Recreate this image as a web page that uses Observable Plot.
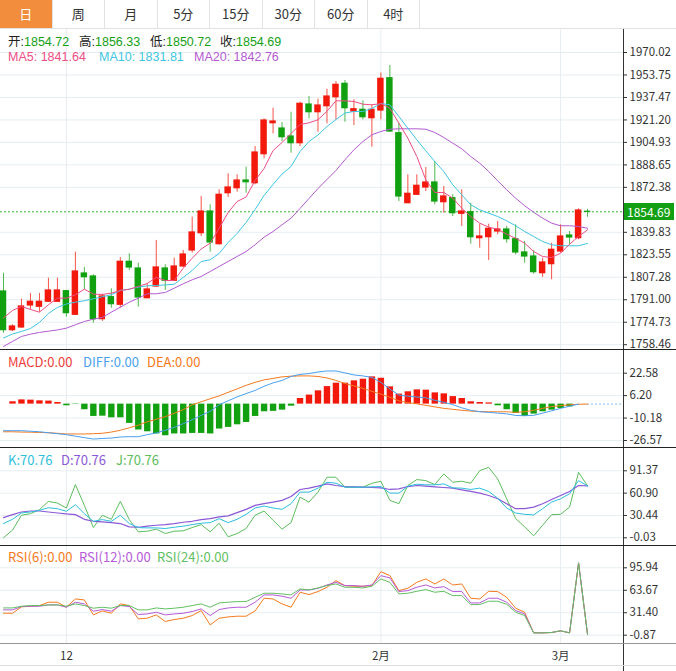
<!DOCTYPE html>
<html>
<head>
<meta charset="utf-8">
<script src="https://cdn.jsdelivr.net/npm/d3@7"></script>
<script src="https://cdn.jsdelivr.net/npm/@observablehq/plot@0.6"></script>
<style>
html,body{margin:0;padding:0;background:#fff;}
#wrap{position:relative;width:676px;height:671px;overflow:hidden;font-family:"Noto Sans CJK SC","Noto Sans",sans-serif;}
.tabs{position:absolute;left:0;top:0;height:29px;width:676px;border-bottom:1px solid #e2e2e2;box-sizing:border-box;}
.tab{position:absolute;top:0;height:28px;line-height:28px;text-align:center;font-size:13px;color:#333;border-right:1px solid #e2e2e2;box-sizing:border-box;}
.tab.on{background:#f28d3e;color:#fff;}
.pnl{position:absolute;left:0;}
.pnl svg{display:block;overflow:visible;}
.lg{position:absolute;font-size:13px;line-height:13px;height:13px;white-space:pre;}
.lt{position:absolute;font-family:"Liberation Sans","Noto Sans CJK SC",sans-serif;font-size:12.5px;line-height:14px;height:14px;white-space:pre;}
.sep{position:absolute;left:0;width:676px;height:1px;background:#222;}
.tag{position:absolute;left:624px;width:50px;height:17px;line-height:17px;background:#12a012;color:#fff;font-size:12px;padding-left:3px;box-sizing:border-box;}
</style>
</head>
<body>
<div id="wrap"></div>
<script>
// ---------------- data ----------------
const tabLabels = ["日","周","月","5分","15分","30分","60分","4时"];
const xTickIdx = [7, 42, 62];
const xTickText = ["12", "2月", "3月"];

const open  = [1796.99,1768.98,1770.93,1786.86,1785.92,1789.54,1789.54,1797.21,1780.13,1810.02,1807.85,1776.94,1792.87,1787.37,1818.49,1813.64,1792.14,1800.61,1813.64,1804.74,1815.09,1826.68,1839.20,1854.91,1831.24,1868.15,1871.77,1877.35,1875.39,1896.39,1918.83,1914.99,1909.20,1904.35,1932.36,1926.79,1931.13,1937.65,1947.35,1927.30,1928.53,1922.45,1928.02,1951.40,1911.59,1860.92,1867.00,1872.28,1875.90,1861.64,1864.54,1853.24,1854.40,1835.58,1836.30,1840.43,1841.88,1834.86,1825.23,1822.33,1810.24,1816.76,1825.95,1837.53,1835.58,1854.72];
const high  = [1810.24,1772.89,1791.42,1795.55,1795.55,1806.62,1806.62,1797.90,1825.44,1814.37,1809.08,1795.04,1798.95,1821.61,1824.29,1817.48,1802.57,1833.91,1816.32,1821.10,1826.68,1850.78,1865.77,1859.76,1870.62,1882.20,1881.47,1886.98,1901.96,1922.01,1929.69,1919.33,1926.79,1934.03,1938.16,1936.20,1943.44,1949.01,1949.74,1935.77,1935.04,1932.15,1955.17,1960.60,1918.83,1881.47,1881.47,1886.76,1891.10,1873.00,1867.00,1870.62,1860.92,1845.71,1845.71,1847.67,1844.05,1845.28,1833.19,1826.46,1821.10,1831.96,1845.28,1840.43,1856.86,1856.33];
const low   = [1766.81,1768.04,1770.43,1783.75,1782.01,1789.00,1789.00,1778.39,1779.60,1798.23,1774.05,1775.28,1784.91,1784.91,1812.20,1785.63,1791.71,1799.90,1797.72,1804.23,1814.37,1824.72,1836.81,1825.44,1830.60,1865.04,1868.88,1868.15,1874.24,1893.06,1911.15,1905.58,1897.11,1901.96,1922.01,1912.31,1918.39,1921.29,1919.55,1917.16,1921.29,1901.45,1921.29,1912.31,1862.15,1860.50,1866.49,1869.39,1859.76,1853.68,1851.29,1844.05,1831.24,1828.34,1819.44,1838.04,1831.96,1823.56,1817.48,1809.52,1807.13,1805.46,1824.72,1830.80,1834.42,1850.72];
const close = [1768.98,1771.66,1786.14,1789.54,1789.54,1797.72,1797.72,1781.29,1811.47,1807.35,1776.94,1793.38,1787.80,1818.49,1814.37,1792.65,1798.44,1814.37,1804.74,1815.09,1823.78,1839.71,1854.91,1832.47,1867.00,1872.28,1877.35,1876.12,1897.62,1920.78,1920.06,1908.69,1904.35,1932.87,1926.79,1931.64,1938.16,1946.63,1929.69,1928.96,1923.17,1928.53,1950.97,1912.82,1865.77,1867.72,1873.51,1875.90,1862.15,1865.77,1853.68,1854.91,1836.30,1836.81,1842.38,1841.88,1834.86,1825.23,1822.33,1810.97,1817.99,1827.18,1836.81,1836.09,1855.63,1854.69];

const ma5  = [1777.81,1783.24,1786.14,1783.97,1782.01,1787.37,1792.14,1792.14,1794.61,1798.66,1795.04,1794.82,1795.76,1797.72,1798.66,1800.61,1802.79,1807.13,1804.96,1804.96,1813.86,1821.10,1827.76,1831.96,1842.82,1854.18,1862.15,1865.40,1877.35,1886.03,1899.06,1904.86,1911.37,1917.89,1919.12,1921.29,1927.51,1935.04,1935.04,1934.54,1932.58,1932.15,1933.09,1929.69,1918.83,1907.97,1894.72,1877.85,1868.66,1868.66,1864.54,1857.30,1851.29,1846.44,1843.54,1842.09,1838.47,1835.58,1831.96,1825.95,1822.33,1821.61,1824.72,1831.24,1836.81,1841.64];
const ma10 = [1763.33,1766.23,1768.04,1770.21,1774.55,1781.07,1785.41,1787.95,1789.25,1790.26,1791.71,1793.16,1794.61,1797.72,1798.66,1800.11,1801.12,1801.34,1801.70,1802.28,1807.13,1812.20,1818.71,1819.94,1824.50,1832.47,1838.98,1846.94,1856.35,1866.49,1874.45,1882.05,1887.48,1898.34,1905.58,1910.29,1916.44,1921.51,1926.21,1927.30,1927.30,1929.47,1933.09,1932.15,1923.68,1915.21,1906.81,1898.85,1891.10,1883.86,1874.24,1867.00,1859.76,1856.14,1853.68,1851.29,1848.17,1844.56,1840.43,1836.81,1833.19,1830.80,1830.08,1830.08,1830.08,1831.81];
const ma20 = [1757.18,1760.80,1764.42,1766.08,1767.32,1768.26,1769.13,1770.43,1772.89,1775.28,1776.94,1778.17,1782.01,1785.63,1789.25,1792.14,1795.33,1795.33,1796.27,1799.38,1802.57,1805.46,1807.85,1811.47,1815.09,1818.71,1822.33,1825.95,1830.80,1836.30,1840.43,1845.28,1850.06,1857.08,1864.32,1871.56,1878.07,1884.59,1892.33,1899.57,1905.58,1910.43,1912.82,1914.48,1914.77,1914.77,1914.77,1914.48,1912.10,1908.48,1904.35,1900.30,1894.72,1889.87,1883.86,1877.13,1870.62,1864.54,1859.03,1854.40,1850.06,1846.44,1844.56,1844.56,1844.05,1842.76];

const macd = [0,1.7,3.1,2.9,2.4,2.2,1.2,-1.2,-0.3,-4.1,-9.0,-8.8,-10.0,-10.0,-14.1,-18.9,-20.2,-21.8,-23.1,-21.8,-21.8,-21.4,-21.4,-21.8,-18.2,-17.0,-15.1,-13.4,-9.0,-5.6,-5.3,-4.4,-1.5,4.1,6.6,9.7,12.8,15.3,15.3,17.0,18.2,19.9,18.9,12.6,7.3,9.0,10.4,10.2,8.2,7.5,5.5,4.1,1.7,1.2,0.9,-1.2,-4.1,-6.8,-9.0,-7.3,-5.6,-4.4,-3.2,-2.0,0,0];
const diff = [-19.4,-19.4,-19.4,-19.8,-20.2,-20.9,-21.6,-22.3,-23.4,-24.5,-25.5,-25.1,-24.8,-24.0,-23.8,-23.8,-22.3,-21.1,-19.1,-17.0,-14.3,-11.4,-8.2,-5.2,-0.5,2.4,5.3,7.7,10.0,13.0,15.5,17.3,20.2,21.7,22.3,23.5,24.2,24.2,22.8,21.3,20.6,19.5,15.9,11.1,6.6,5.8,5.2,4.6,2.8,1.3,-0.4,-2.7,-4.5,-5.6,-6.0,-6.6,-7.1,-8.3,-8.5,-8.2,-6.6,-4.9,-3.1,-1.5,0,0];
const dea  = [-20.2,-20.2,-20.4,-20.5,-20.7,-20.9,-21.3,-21.8,-21.8,-21.8,-21.6,-21.3,-20.4,-19.1,-17.3,-15.4,-12.9,-11.1,-9.2,-6.7,-4.1,-0.5,1.7,3.9,6.0,8.6,11.1,13.7,15.9,17.7,18.8,19.9,20.4,20.6,20.6,20.2,19.1,17.3,15.1,13.3,11.5,9.3,7.3,5.0,2.4,1.1,0.2,-0.9,-2.0,-3.1,-3.8,-4.5,-5.1,-5.4,-5.6,-5.6,-5.6,-6.0,-5.6,-4.5,-3.1,-1.8,-1.1,-0.5,-0.1,0];

const kLine = [19.4,25.2,33.8,35.2,37.4,41.0,39.7,36.1,45.1,32.9,22.5,24.8,22.5,30.7,19.4,13.9,13.5,13.5,12.6,14.4,15.8,18.0,19.8,20.7,26.1,20.7,25.2,32.0,40.6,43.3,40.6,38.8,46.5,62.3,62.3,67.7,75.8,74.4,69.0,69.0,69.0,69.5,69.9,60.9,60.9,70.4,73.1,72.2,72.2,73.5,68.1,67.7,65.9,67.7,63.2,54.1,40.6,33.8,32.0,31.1,39.7,48.7,53.2,60.0,78.0,70.76];
const dLine = [27.5,31.6,35.2,36.5,36.5,35.2,33.8,32.5,31.6,25.2,22.5,21.6,20.7,19.4,14.9,14.4,15.8,17.1,18.0,19.4,21.2,22.5,24.8,26.1,28.4,29.8,34.3,38.8,44.2,46.5,48.7,51.0,56.4,65.9,67.7,70.4,73.5,71.3,69.9,69.5,69.0,68.6,68.1,65.9,66.8,69.9,71.3,70.4,69.5,68.6,67.7,65.4,63.2,60.9,57.7,53.2,46.5,39.7,39.7,41.9,46.5,52.3,57.7,63.2,71.3,70.76];
const jLine = [0.0,10.4,30.7,32.9,38.3,49.6,47.4,40.6,72.6,44.2,14.0,30.7,25.2,49.6,24.8,8.1,9.0,11.7,5.8,9.0,9.5,13.9,18.0,8.1,19.8,1.3,5.8,12.6,30.7,36.5,23.9,11.7,20.7,55.5,48.7,62.3,82.6,82.6,69.0,69.0,69.0,74.4,77.1,51.0,46.5,71.3,79.4,78.0,72.6,87.1,75.8,77.1,74.4,91.6,96.1,80.3,53.2,26.2,14.9,2.7,17.1,31.6,32.0,41.9,89.3,70.76];

const rsi6  = [30.7,30.7,39.8,40.7,41.7,46.5,46.5,39.3,51.2,49.8,28.3,34.0,30.7,44.1,41.7,22.6,23.5,28.3,18.8,21.6,23.5,27.3,34.5,13.9,23.5,25.4,26.4,26.4,34.0,52.2,51.2,44.1,39.3,60.8,57.5,61.8,68.0,77.5,70.4,69.4,69.4,70.4,90.4,84.7,63.2,66.5,75.1,79.9,72.7,79.9,71.3,72.7,52.2,51.2,62.2,61.8,53.6,37.9,32.1,2.5,2.5,3.0,5.4,2.5,103.0,0];
const rsi12 = [35.5,35.5,40.3,40.7,40.7,42.6,42.6,39.3,46.5,44.1,33.6,36.0,33.6,41.7,40.3,28.8,29.7,32.1,28.3,29.7,30.7,33.1,36.9,27.3,36.0,38.3,39.3,39.3,46.5,57.0,57.0,55.1,52.2,64.1,64.1,66.5,71.3,75.1,70.4,70.4,69.4,71.3,84.7,81.4,61.8,63.2,68.0,71.3,67.0,68.9,61.8,61.8,45.5,45.5,52.2,52.2,46.5,34.5,29.7,2.5,2.5,3.0,5.4,2.5,103.0,0];
const rsi24 = [38.3,38.3,40.7,41.7,41.7,42.6,42.6,40.7,44.1,41.7,37.9,39.3,37.9,41.7,41.7,35.5,35.5,38.3,36.9,37.9,39.3,41.7,44.1,39.3,45.5,46.5,47.4,47.4,53.6,59.4,59.4,58.4,57.0,65.6,64.1,67.0,70.4,72.7,68.0,68.0,67.0,69.4,79.9,75.1,58.4,59.4,62.2,64.6,60.8,62.2,56.0,56.0,43.1,43.1,47.9,47.9,43.6,32.1,27.3,2.5,2.5,3.0,5.4,2.5,103.0,0];

const priceTicks = [1970.02,1953.75,1937.47,1921.20,1904.93,1888.65,1872.38,1839.83,1823.55,1807.28,1791.00,1774.73,1758.46];
const macdTicks = [22.58,6.20,-10.18,-26.57];
const kdjTicks = [91.37,60.90,30.44,-0.03];
const rsiTicks = [95.94,63.67,31.40,-0.87];

// ---------------- styling ----------------
const RED = "#f2190c", GREEN = "#10a010", GRID = "#e6edf1";
const C_MA5 = "#ee4d86", C_MA10 = "#3ec5e2", C_MA20 = "#b35ad0";
const C_DIFF = "#4a9fee", C_DEA = "#f47a20", C_MACD = "#ef3b3b";
const C_K = "#2dbfdc", C_D = "#8b58d6", C_J = "#5cbd5c";
const C_R6 = "#f47a20", C_R12 = "#b65ad8", C_R24 = "#62bf62";
const FONT = "'Noto Sans CJK SC','Noto Sans',sans-serif";
const W = 676, MR = 53, XDOM = [-1/3, 69];
const idx = d3.range(close.length);
const rows = idx.map(i => ({i, o: open[i], h: high[i], l: low[i], c: close[i], col: close[i] >= open[i] ? RED : GREEN}));

const wrap = document.getElementById("wrap");
function el(tag, cls, css, text) {
  const e = document.createElement(tag);
  if (cls) e.className = cls;
  if (css) e.style.cssText = css;
  if (text != null) e.textContent = text;
  wrap.appendChild(e);
  return e;
}

// tabs
const tabs = el("div", "tabs");
tabLabels.forEach((t, k) => {
  const d = document.createElement("div");
  d.className = "tab" + (k === 0 ? " on" : "");
  d.style.left = (k * 52.5) + "px";
  d.style.width = "52.5px";
  d.textContent = t;
  tabs.appendChild(d);
});

function base(height, yDomain, yRange, ticks, marks) {
  return Plot.plot({
    width: W, height, marginLeft: 0, marginRight: MR, marginTop: 0, marginBottom: 0,
    style: {fontFamily: FONT, fontSize: "11.5px", color: "#333", background: "transparent", overflow: "visible"},
    x: {domain: XDOM, axis: null},
    y: {domain: yDomain, range: yRange, axis: null},
    marks: [
      Plot.ruleY(ticks, {stroke: GRID}),
      Plot.ruleX(xTickIdx, {stroke: GRID}),
      ...marks,
      Plot.axisY(ticks, {anchor: "right", tickSize: 3, tickPadding: 3, tickFormat: d => d.toFixed(2), stroke: "#333", fill: "#333"}),
      Plot.frame({anchor: "right", stroke: "#333"})
    ]
  });
}
function place(svg, top) {
  const d = el("div", "pnl", `top:${top}px;`);
  d.appendChild(svg);
  return d;
}

// ---------- main chart ----------
const lastC = close[close.length - 1];
const main = base(320, [1758.46, 1970.02], [315.2, 23.0], priceTicks, [
  Plot.ruleY([lastC], {stroke: "#35b535", strokeDasharray: "2,2"}),
  Plot.ruleX(rows, {x: "i", y1: "l", y2: "h", stroke: "col", strokeWidth: 1, strokeOpacity: 0.75}),
  Plot.rect(rows, {x1: d => d.i - 0.36, x2: d => d.i + 0.36, y1: "o", y2: "c", fill: "col", insetTop: -0.6, insetBottom: -0.6}),
  Plot.line(idx, {x: d => d, y: d => ma20[d], stroke: C_MA20, strokeWidth: 1}),
  Plot.line(idx, {x: d => d, y: d => ma10[d], stroke: C_MA10, strokeWidth: 1}),
  Plot.line(idx, {x: d => d, y: d => ma5[d], stroke: C_MA5, strokeWidth: 1})
]);
place(main, 29);
const ty = 29 + main.scale("y").apply(lastC);
el("div", "tag", `top:${ty - 8.5}px;`, lastC.toFixed(2));

// legend rows
const lastI = close.length - 1;
[["开:", open[lastI], 8], ["高:", high[lastI], 79], ["低:", low[lastI], 150], ["收:", close[lastI], 220]].forEach(([k, v, x]) => {
  const s = el("div", "lt", `left:${x}px;top:35px;color:#222;`, k);
  const sp = document.createElement("span");
  sp.style.color = "#16a016";
  sp.textContent = v.toFixed(2);
  s.appendChild(sp);
});
[["MA5: ", ma5[lastI], 8, C_MA5], ["MA10: ", ma10[lastI], 99, C_MA10], ["MA20: ", ma20[lastI], 194, C_MA20]].forEach(([k, v, x, c]) => {
  el("div", "lt", `left:${x}px;top:50px;color:${c};`, k + v.toFixed(2));
});

// ---------- MACD ----------
const macdSvg = base(98, [-26.57, 22.58], [91, 23.7], macdTicks, [
  Plot.ruleX(idx, {x: d => d, y1: 0, y2: d => macd[d], stroke: d => macd[d] >= 0 ? RED : GREEN, strokeWidth: 6.4}),
  Plot.ruleY([0], {x1: idx.length - 1, x2: XDOM[1], stroke: C_DIFF, strokeDasharray: "2,2", strokeOpacity: 0.7}),
  Plot.line(idx, {x: d => d, y: d => dea[d], stroke: C_DEA, strokeWidth: 1}),
  Plot.line(idx.slice(0, -1), {x: d => d, y: d => diff[d], stroke: C_DIFF, strokeWidth: 1})
]);
place(macdSvg, 349);

// ---------- KDJ ----------
const kdjSvg = base(98, [-0.03, 91.37], [90.3, 23.3], kdjTicks, [
  Plot.line(idx, {x: d => d, y: d => jLine[d], stroke: C_J, strokeWidth: 1}),
  Plot.line(idx, {x: d => d, y: d => dLine[d], stroke: C_D, strokeWidth: 1.2}),
  Plot.line(idx, {x: d => d, y: d => kLine[d], stroke: C_K, strokeWidth: 1})
]);
place(kdjSvg, 447);

// ---------- RSI ----------
const rsiSvg = base(98, [-0.87, 95.94], [89.7, 22.3], rsiTicks, [
  Plot.line(idx, {x: d => d, y: d => rsi6[d], stroke: C_R6, strokeWidth: 1}),
  Plot.line(idx, {x: d => d, y: d => rsi12[d], stroke: C_R12, strokeWidth: 1}),
  Plot.line(idx, {x: d => d, y: d => rsi24[d], stroke: C_R24, strokeWidth: 1})
]);
place(rsiSvg, 545);

// ---------- x axis ----------
const xSvg = Plot.plot({
  width: W, height: 28, marginLeft: 0, marginRight: MR, marginTop: 0, marginBottom: 0,
  style: {fontFamily: FONT, fontSize: "11.5px", color: "#333", background: "transparent", overflow: "visible"},
  x: {domain: XDOM, axis: null},
  marks: [
    Plot.text(xTickIdx, {x: d => d, text: (d, k) => xTickText[k], frameAnchor: "top", dy: 8, fill: "#333"}),
    Plot.frame({anchor: "right", stroke: "#333"})
  ]
});
place(xSvg, 643);

// separators
el("div", "sep", "top:349px;");
el("div", "sep", "top:447px;");
el("div", "sep", "top:545px;");
el("div", "sep", "top:643px;background:#999;");
el("div", "sep", "top:665px;background:#ddd;");

// panel legends
function legend(top, items) {
  items.forEach(([t, x, c]) => el("div", "lg", `left:${x}px;top:${top}px;color:${c};`, t));
}
legend(355, [["MACD:" + macd[lastI].toFixed(2), 8, C_MACD], ["DIFF:" + diff[lastI].toFixed(2), 83, C_DIFF], ["DEA:" + dea[lastI].toFixed(2), 147, C_DEA]]);
legend(453, [["K:" + kLine[lastI].toFixed(2), 8, C_K], ["D:" + dLine[lastI].toFixed(2), 61, C_D], ["J:" + jLine[lastI].toFixed(2), 116, C_J]]);
legend(550, [["RSI(6):" + rsi6[lastI].toFixed(2), 8, C_R6], ["RSI(12):" + rsi12[lastI].toFixed(2), 79, C_R12], ["RSI(24):" + rsi24[lastI].toFixed(2), 157, C_R24]]);
</script>
</body>
</html>
